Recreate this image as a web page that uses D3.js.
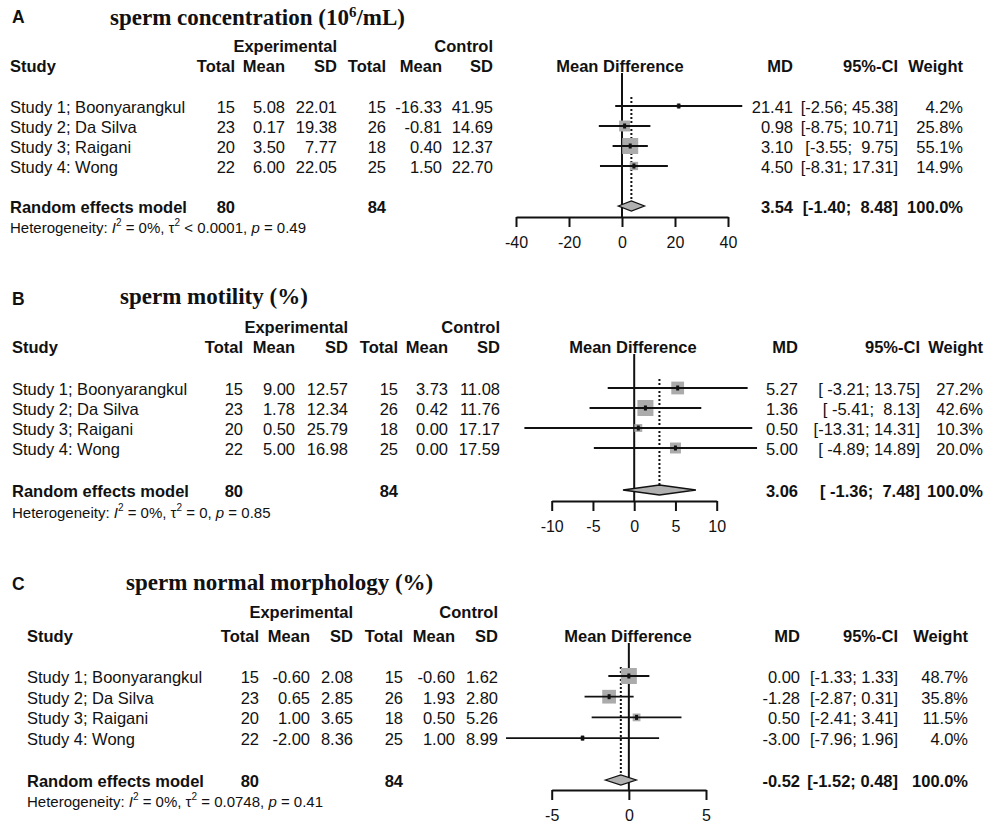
<!DOCTYPE html>
<html><head><meta charset="utf-8">
<script src="https://cdn.jsdelivr.net/npm/d3@7"></script>
<style>
body{margin:0;background:#fff}
svg{display:block}
text{font-family:"Liberation Sans",Arial,sans-serif;fill:#111}
</style>
</head><body>
<svg id="chart" width="993" height="825"></svg>
<script>
// ---------- data ----------
const studies = ["Study 1; Boonyarangkul", "Study 2; Da Silva", "Study 3; Raigani", "Study 4: Wong"];
const expTotal = [15, 23, 20, 22];
const ctrlTotal = [15, 26, 18, 25];
const pooledTotals = [80, 84];

// Panel A: sperm concentration
const expMeanA = [5.08, 0.17, 3.50, 6.00];
const expSdA = [22.01, 19.38, 7.77, 22.05];
const ctrlMeanA = [-16.33, -0.81, 0.40, 1.50];
const ctrlSdA = [41.95, 14.69, 12.37, 22.70];
const mdA = [21.41, 0.98, 3.10, 4.50];
const loA = [-2.56, -8.75, -3.55, -8.31];
const hiA = [45.38, 10.71, 9.75, 17.31];
const weightA = [4.2, 25.8, 55.1, 14.9];
const pooledA = [3.54, -1.40, 8.48];
const ticksA = [-40, -20, 0, 20, 40];
const hetA = ["0%", "< 0.0001", "0.49"];

// Panel B: sperm motility
const expMeanB = [9.00, 1.78, 0.50, 5.00];
const expSdB = [12.57, 12.34, 25.79, 16.98];
const ctrlMeanB = [3.73, 0.42, 0.00, 0.00];
const ctrlSdB = [11.08, 11.76, 17.17, 17.59];
const mdB = [5.27, 1.36, 0.50, 5.00];
const loB = [-3.21, -5.41, -13.31, -4.89];
const hiB = [13.75, 8.13, 14.31, 14.89];
const weightB = [27.2, 42.6, 10.3, 20.0];
const pooledB = [3.06, -1.36, 7.48];
const ticksB = [-10, -5, 0, 5, 10];
const hetB = ["0%", "= 0", "0.85"];

// Panel C: sperm normal morphology
const expMeanC = [-0.60, 0.65, 1.00, -2.00];
const expSdC = [2.08, 2.85, 3.65, 8.36];
const ctrlMeanC = [-0.60, 1.93, 0.50, 1.00];
const ctrlSdC = [1.62, 2.80, 5.26, 8.99];
const mdC = [0.00, -1.28, 0.50, -3.00];
const loC = [-1.33, -2.87, -2.41, -7.96];
const hiC = [1.33, 0.31, 3.41, 1.96];
const weightC = [48.7, 35.8, 11.5, 4.0];
const pooledC = [-0.52, -1.52, 0.48];
const ticksC = [-5, 0, 5];
const hetC = ["0%", "= 0.0748", "0.41"];

const domainA = [-40, 40], domainB = [-10, 10], domainC = [-5, 5];

// ---------- panels (built from the arrays above) ----------
const panels = [
  { letter: "A", title: ["sperm concentration (10", "6", "/mL)"],
    expMean: expMeanA, expSd: expSdA, ctrlMean: ctrlMeanA, ctrlSd: ctrlSdA,
    md: mdA, lo: loA, hi: hiA, w: weightA, pooled: pooledA, ticks: ticksA, het: hetA, domain: domainA,
    L: { letterY: 23, titleX: 110, titleY: 25, expY: 52, headY: 72, row0: 113, step: 20, pooledY: 213, hetY: 233,
         axisY: 217, studyX: 10, cols: [235, 285, 337, 386, 442, 493], range: [516, 728],
         mdX: 793, ciX: 898, wX: 963, mdHead: 620 } },
  { letter: "B", title: ["sperm motility (%)"],
    expMean: expMeanB, expSd: expSdB, ctrlMean: ctrlMeanB, ctrlSd: ctrlSdB,
    md: mdB, lo: loB, hi: hiB, w: weightB, pooled: pooledB, ticks: ticksB, het: hetB, domain: domainB,
    L: { letterY: 305, titleX: 120, titleY: 304, expY: 333, headY: 353, row0: 395, step: 20, pooledY: 497, hetY: 518,
         axisY: 501, studyX: 12, cols: [243, 295, 348, 398, 448, 500], range: [551.7, 716.7],
         mdX: 798, ciX: 920, wX: 983, mdHead: 633 } },
  { letter: "C", title: ["sperm normal morphology (%)"],
    expMean: expMeanC, expSd: expSdC, ctrlMean: ctrlMeanC, ctrlSd: ctrlSdC,
    md: mdC, lo: loC, hi: hiC, w: weightC, pooled: pooledC, ticks: ticksC, het: hetC, domain: domainC,
    L: { letterY: 590, titleX: 126, titleY: 590, expY: 618, headY: 642, row0: 683, step: 20.7, pooledY: 787, hetY: 807,
         axisY: 790, studyX: 27, cols: [259, 310, 353, 403, 455, 498], range: [551.7, 706],
         mdX: 800, ciX: 898, wX: 968, mdHead: 628 } }
];

const svg = d3.select("#chart");
svg.append("rect").attr("width", 993).attr("height", 825).attr("fill", "#fff");

const FS = 16.5;
const f2 = v => v.toFixed(2);

function txt(g, x, y, s, opts = {}) {
  return g.append("text").attr("x", x).attr("y", y)
    .attr("text-anchor", opts.anchor || "start")
    .attr("font-size", opts.size || FS)
    .attr("font-weight", opts.bold ? "bold" : "normal")
    .style("white-space", "pre")
    .text(s);
}

panels.forEach(p => {
  const L = p.L;
  const g = svg.append("g");

  // letter + title
  txt(g, 12, L.letterY, p.letter, { bold: true, size: 17.5 });
  const t = g.append("text").attr("x", L.titleX).attr("y", L.titleY)
    .attr("font-size", 23).attr("font-weight", "bold")
    .style("font-family", '"Liberation Serif","Times New Roman",serif');
  t.append("tspan").text(p.title[0]);
  if (p.title.length > 1) {
    t.append("tspan").attr("dy", -8).attr("font-size", 15).text(p.title[1]);
    t.append("tspan").attr("dy", 8).text(p.title[2]);
  }

  // headers
  const c = L.cols;
  txt(g, c[2], L.expY, "Experimental", { anchor: "end", bold: true });
  txt(g, c[5], L.expY, "Control", { anchor: "end", bold: true });
  txt(g, L.studyX, L.headY, "Study", { bold: true });
  ["Total", "Mean", "SD", "Total", "Mean", "SD"].forEach((h, i) => txt(g, c[i], L.headY, h, { anchor: "end", bold: true }));
  txt(g, L.mdHead, L.headY, "Mean Difference", { anchor: "middle", bold: true });
  txt(g, L.mdX, L.headY, "MD", { anchor: "end", bold: true });
  txt(g, L.ciX, L.headY, "95%-CI", { anchor: "end", bold: true });
  txt(g, L.wX, L.headY, "Weight", { anchor: "end", bold: true });

  // CI strings padded like R
  const loStr = p.lo.concat([p.pooled[1]]).map(f2);
  const hiStr = p.hi.concat([p.pooled[2]]).map(f2);
  const lw = d3.max(loStr, s => s.length), hw = d3.max(hiStr, s => s.length);
  const ciStr = loStr.map((s, i) => "[" + s.padStart(lw) + "; " + hiStr[i].padStart(hw) + "]");

  const rowY = i => L.row0 + i * L.step;

  studies.forEach((s, i) => {
    const y = rowY(i);
    txt(g, L.studyX, y, s);
    const vals = [String(expTotal[i]), f2(p.expMean[i]), f2(p.expSd[i]), String(ctrlTotal[i]), f2(p.ctrlMean[i]), f2(p.ctrlSd[i])];
    vals.forEach((v, k) => txt(g, c[k], y, v, { anchor: "end" }));
    txt(g, L.mdX, y, f2(p.md[i]), { anchor: "end" });
    txt(g, L.ciX, y, ciStr[i], { anchor: "end" });
    txt(g, L.wX, y, p.w[i].toFixed(1) + "%", { anchor: "end" });
  });

  // pooled row
  txt(g, L.studyX, L.pooledY, "Random effects model", { bold: true });
  txt(g, c[0], L.pooledY, String(pooledTotals[0]), { anchor: "end", bold: true });
  txt(g, c[3], L.pooledY, String(pooledTotals[1]), { anchor: "end", bold: true });
  txt(g, L.mdX, L.pooledY, f2(p.pooled[0]), { anchor: "end", bold: true });
  txt(g, L.ciX, L.pooledY, ciStr[4], { anchor: "end", bold: true });
  txt(g, L.wX, L.pooledY, "100.0%", { anchor: "end", bold: true });

  // heterogeneity
  const ht = g.append("text").attr("x", L.studyX).attr("y", L.hetY).attr("font-size", 15).style("white-space", "pre");
  ht.append("tspan").text("Heterogeneity: ");
  ht.append("tspan").attr("font-style", "italic").text("I");
  ht.append("tspan").attr("dy", -7).attr("font-size", 10).text("2");
  ht.append("tspan").attr("dy", 7).text(" = " + p.het[0] + ", ");
  ht.append("tspan").text("τ");
  ht.append("tspan").attr("dy", -7).attr("font-size", 10).text("2");
  ht.append("tspan").attr("dy", 7).text(" " + p.het[1] + ", ");
  ht.append("tspan").attr("font-style", "italic").text("p");
  ht.append("tspan").text(" = " + p.het[2]);

  // forest plot
  const x = d3.scaleLinear().domain(p.domain).range(L.range);
  const cy = i => rowY(i) - 7;
  const pcy = L.pooledY - 7;
  const maxW = d3.max(p.w);
  const boxSize = d3.scaleSqrt().domain([0, maxW]).range([0, 16]);

  // zero line
  g.append("line").attr("x1", x(0)).attr("x2", x(0)).attr("y1", L.headY + 1).attr("y2", L.axisY)
    .attr("stroke", "#111").attr("stroke-width", 2);
  // pooled dotted line
  g.append("line").attr("x1", x(p.pooled[0])).attr("x2", x(p.pooled[0]))
    .attr("y1", cy(0) - 9).attr("y2", pcy - 5)
    .attr("stroke", "#111").attr("stroke-width", 2).attr("stroke-dasharray", "2,2");

  // squares
  studies.forEach((s, i) => {
    const sz = boxSize(p.w[i]);
    g.append("rect").attr("x", x(p.md[i]) - sz / 2).attr("y", cy(i) - sz / 2)
      .attr("width", sz).attr("height", sz).attr("fill", "#ababab");
  });
  // CI lines
  studies.forEach((s, i) => {
    g.append("line").attr("x1", x(p.lo[i])).attr("x2", x(p.hi[i])).attr("y1", cy(i)).attr("y2", cy(i))
      .attr("stroke", "#111").attr("stroke-width", 1.8);
    g.append("rect").attr("x", x(p.md[i]) - 1.5).attr("y", cy(i) - 2.5).attr("width", 3).attr("height", 5)
      .attr("fill", "#111");
  });
  // diamond
  const dh = 5;
  g.append("polygon")
    .attr("points", [[x(p.pooled[1]), pcy], [x(p.pooled[0]), pcy - dh], [x(p.pooled[2]), pcy], [x(p.pooled[0]), pcy + dh]].map(d => d.join(",")).join(" "))
    .attr("fill", "#b0b0b0").attr("stroke", "#111").attr("stroke-width", 1.3);

  // axis
  const ax = g.append("g").attr("transform", `translate(0,${L.axisY})`)
    .call(d3.axisBottom(x).tickValues(p.ticks).tickSize(10).tickSizeOuter(0).tickPadding(10).tickFormat(d => String(d)));
  ax.select(".domain").attr("stroke", "#111").attr("stroke-width", 2);
  ax.selectAll(".tick line").attr("stroke", "#111").attr("stroke-width", 2);
  ax.selectAll(".tick text").attr("font-size", 16).attr("fill", "#111")
    .style("font-family", '"Liberation Sans",Arial,sans-serif');
});
</script>
</body></html>
